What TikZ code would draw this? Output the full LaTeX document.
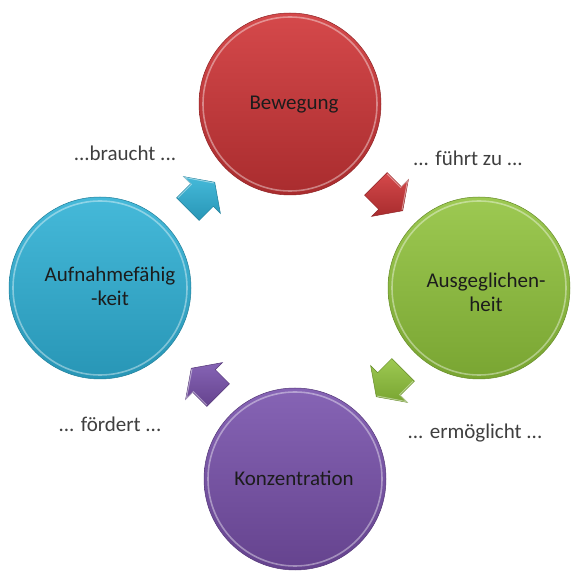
\documentclass[tikz,border=0pt]{standalone}
\usepackage{fontspec}
\setmainfont{Carlito}
\usetikzlibrary{calc}
\definecolor{redA}{HTML}{D5494B}
\definecolor{redB}{HTML}{A92C2E}
\definecolor{greenA}{HTML}{9DC952}
\definecolor{greenB}{HTML}{79A532}
\definecolor{purpA}{HTML}{8664B5}
\definecolor{purpB}{HTML}{65438E}
\definecolor{blueA}{HTML}{45B9D9}
\definecolor{blueB}{HTML}{2896B6}
\definecolor{txtdark}{HTML}{1C1C1C}
\definecolor{txtlabel}{HTML}{3F3F3F}
\tikzset{
  bubble/.style 2 args={circle, minimum size=182pt, inner sep=0pt,
    top color=#1, bottom color=#2, draw=#2!85!black, line width=0.5pt},
  rim/.style={draw=white, draw opacity=0.4, line width=1.6pt},
  bubbletext/.style={font=\fontsize{21}{24}\selectfont, text=txtdark, align=center},
  steplabel/.style={font=\fontsize{21}{24}\selectfont, text=txtlabel},
  pics/cyclearrow/.style 2 args={code={
    \shade[top color=#1, bottom color=#2, draw=#2!85!black, line width=0.5pt, line join=miter]
      (-20,-16) -- (0,-16) -- (0,-26) -- (18,0) -- (0,26) -- (0,16) -- (-20,16) -- cycle;
    \draw[white, opacity=0.45, line width=1pt] (-19,15) -- (0,15) -- (0,25) -- (17,0);
  }}
}
\begin{document}
\begin{tikzpicture}[x=1pt, y=1pt]
\useasboundingbox (0,0) rectangle (576,576);
\fill[white] (0,0) rectangle (576,576);

% circles
\node[bubble={redA}{redB}]     (bew) at (290,472) {};
\node[bubble={greenA}{greenB}] (aus) at (479,288) {};
\node[bubble={purpA}{purpB}]   (kon) at (295,97) {};
\node[bubble={blueA}{blueB}]   (auf) at (100,288) {};
\foreach \c in {bew,aus,kon,auf}{
  \draw[rim] (\c.center) circle (87pt);
}

% texts
\node[bubbletext] (tbew) at ($(bew)+(4,-1)$) {Bewegung};
\node[bubbletext] (taus) at ($(aus)+(7,-4)$) {Ausgeglichen-\\heit};
\node[bubbletext] (tkon) at ($(kon)+(-1,1)$) {Konzentration};
\node[bubbletext] (tauf) at ($(auf)+(10,2)$) {Aufnahmefähig\\-keit};

% arrows
\pic (arR) [rotate=-45]  at (390,378) {cyclearrow={redA}{redB}};
\pic (arG) [rotate=-135] at (389,192) {cyclearrow={greenA}{greenB}};
\pic (arP) [rotate=135]  at (204,195) {cyclearrow={purpA}{purpB}};
\pic (arB) [rotate=45]   at (202,381) {cyclearrow={blueA}{blueB}};

% labels
\node[steplabel] (lbr) at (125,423) {...braucht ...};
\node[steplabel] (lfz) at (468,418) {... führt zu ...};
\node[steplabel] (lfo) at (110,152) {... fördert ...};
\node[steplabel] (ler) at (475,143) {... ermöglicht ...};
\end{tikzpicture}
\end{document}
